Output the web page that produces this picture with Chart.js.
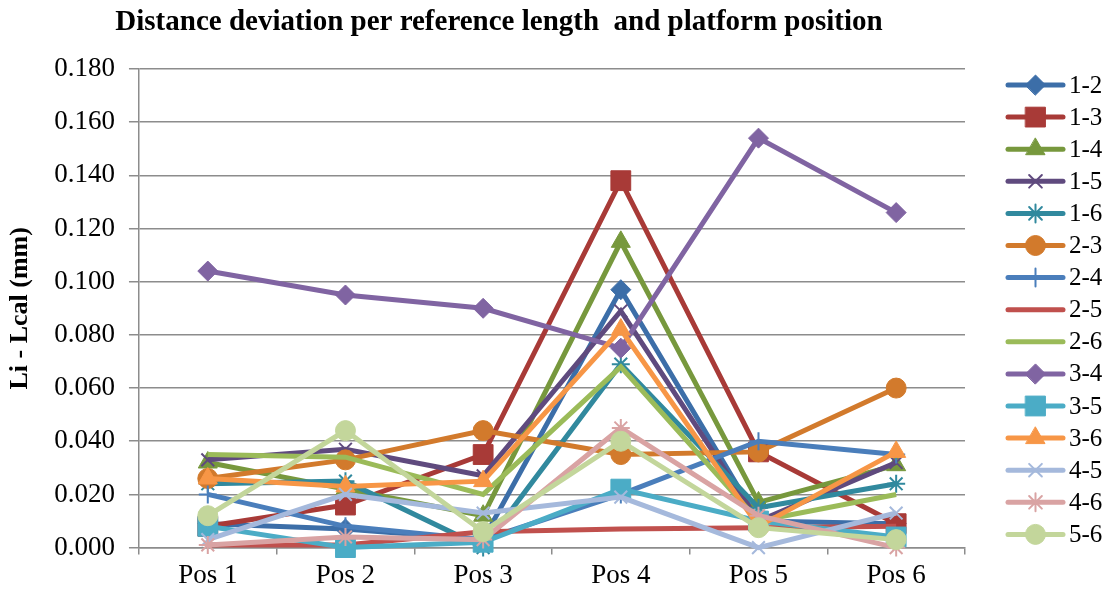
<!DOCTYPE html>
<html>
<head>
<meta charset="utf-8">
<script src="https://cdn.jsdelivr.net/npm/chart.js@4/dist/chart.umd.min.js"></script>
<style>
  html, body { margin: 0; padding: 0; background: #fff; }
  #wrap { width: 1110px; height: 597px; }
</style>
</head>
<body>
<div id="wrap"><canvas id="chart" width="1110" height="597"></canvas></div>
<script>
const positions = ['Pos 1', 'Pos 2', 'Pos 3', 'Pos 4', 'Pos 5', 'Pos 6']
const pairs = ['1-2', '1-3', '1-4', '1-5', '1-6', '2-3', '2-4', '2-5', '2-6', '3-4', '3-5', '3-6', '4-5', '4-6', '5-6']
const chartTitle = 'Distance deviation per reference length  and platform position'

const s12 = [0.009, 0.007, 0.003, 0.097, 0.010, 0.009]
const s13 = [0.008, 0.016, 0.035, 0.138, 0.036, 0.009]
const s14 = [0.032, 0.022, 0.012, 0.115, 0.017, 0.031]
const s15 = [0.033, 0.037, 0.027, 0.089, 0.010, 0.032]
const s16 = [0.024, 0.025, 0.000, 0.069, 0.015, 0.024]
const s23 = [0.026, 0.033, 0.044, 0.035, 0.036, 0.060]
const s24 = [0.020, 0.008, 0.003, 0.020, 0.040, 0.035]
const s25 = [0.001, 0.001, 0.006, 0.007, 0.0075, 0.008]
const s26 = [0.035, 0.034, 0.020, 0.068, 0.010, 0.020]
const s34 = [0.104, 0.095, 0.090, 0.075, 0.154, 0.126]
const s35 = [0.008, 0.000, 0.002, 0.022, 0.010, 0.004]
const s36 = [0.026, 0.023, 0.025, 0.082, 0.008, 0.036]
const s45 = [0.003, 0.020, 0.013, 0.019, 0.000, 0.013]
const s46 = [0.001, 0.004, 0.003, 0.045, 0.012, 0.000]
const s56 = [0.012, 0.044, 0.006, 0.040, 0.0075, 0.003]

const seriesValues = [s12, s13, s14, s15, s16, s23, s24, s25, s26, s34, s35, s36, s45, s46, s56]
const colors = ['#3c6ea8', '#a83a37', '#77983d', '#5f4a7e', '#31899e', '#d27a2c', '#4a7ebb', '#c0504d', '#9bbb59',
  '#8064a2', '#4bacc6', '#f79646', '#a5b9dc', '#d9a3a3', '#c3d69b']
const markers = ['rectRot', 'rect', 'triangle', 'crossRot', 'star', 'circle', 'cross', false, false,
  'rectRot', 'rect', 'triangle', 'crossRot', 'star', 'circle']
const markerSize = { rectRot: 10, rect: 14, triangle: 11, crossRot: 9, star: 9, circle: 10, cross: 9 }

const serif = 'Liberation Serif, Times New Roman, serif'

const datasets = pairs.map((label, i) => {
  const m = markers[i]
  const hollow = m === 'crossRot' || m === 'star' || m === 'cross'
  return {
    label,
    data: seriesValues[i],
    borderColor: colors[i],
    backgroundColor: colors[i],
    borderWidth: 5,
    pointStyle: m || 'circle',
    pointRadius: m ? markerSize[m] : 0,
    pointBorderWidth: hollow ? 2 : 1,
    pointHoverRadius: 0,
    tension: 0,
    clip: false,
    order: pairs.length - i
  }
})

// title centred over the whole picture + legend on the right (line with marker in the middle)
const sidePlugin = {
  id: 'sideLegend',
  afterDraw(chart) {
    const ctx = chart.ctx
    ctx.save()
    ctx.fillStyle = '#000'
    ctx.font = 'bold 29px ' + serif
    ctx.textAlign = 'center'
    ctx.textBaseline = 'middle'
    ctx.fillText(chartTitle, 499, 23)

    const x0 = 1008, x1 = 1063, tx = 1069
    const y0 = 85, dy = 32.1
    chart.data.datasets.forEach((ds, i) => {
      const y = y0 + i * dy
      ctx.strokeStyle = ds.borderColor
      ctx.lineWidth = 5
      ctx.lineCap = 'round'
      ctx.beginPath()
      ctx.moveTo(x0, y)
      ctx.lineTo(x1, y)
      ctx.stroke()
      if (markers[i]) {
        ctx.fillStyle = ds.backgroundColor
        ctx.strokeStyle = ds.borderColor
        ctx.lineWidth = ds.pointBorderWidth
        Chart.helpers.drawPoint(ctx, {
          pointStyle: ds.pointStyle,
          radius: ds.pointRadius,
          rotation: 0,
          borderWidth: ds.pointBorderWidth
        }, (x0 + x1) / 2, y)
      }
      ctx.fillStyle = '#000'
      ctx.font = '25px ' + serif
      ctx.textBaseline = 'middle'
      ctx.textAlign = 'left'
      ctx.fillText(ds.label, tx, y + 1)
    })
    ctx.restore()
  }
}

new Chart(document.getElementById('chart'), {
  type: 'line',
  data: { labels: positions, datasets },
  plugins: [sidePlugin],
  options: {
    responsive: false,
    animation: false,
    layout: { padding: { left: 5, right: 145, top: 69, bottom: 0 } },
    plugins: {
      legend: { display: false },
      tooltip: { enabled: false },
      title: { display: false }
    },
    scales: {
      x: {
        offset: true,
        grid: { offset: true, drawOnChartArea: false, color: '#8c8c8c', lineWidth: 1.5, tickLength: 7 },
        border: { color: '#8c8c8c', width: 1.5 },
        ticks: { color: '#000', font: { family: serif, size: 27 }, padding: 5 }
      },
      y: {
        min: 0,
        max: 0.18,
        grid: { color: '#8c8c8c', lineWidth: 1.5, tickLength: 10 },
        border: { color: '#8c8c8c', width: 1.5 },
        ticks: {
          stepSize: 0.02,
          color: '#000',
          font: { family: serif, size: 27 },
          padding: 14,
          callback: v => v.toFixed(3)
        },
        title: {
          display: true,
          text: 'Li - Lcal (mm)',
          color: '#000',
          font: { family: serif, size: 26, weight: 'bold' },
          padding: { top: 0, bottom: 4 }
        }
      }
    }
  }
})
</script>
</body>
</html>
